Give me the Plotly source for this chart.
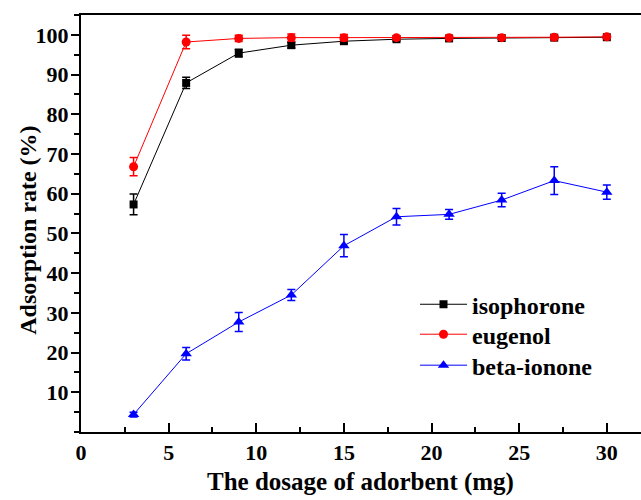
import plotly.graph_objects as go

dosage = [3, 6, 9, 12, 15, 18, 21, 24, 27, 30]

isophorone = [57.3, 87.9, 95.4, 97.4, 98.4, 98.9, 99.1, 99.2, 99.3, 99.4]
isophorone_err = [2.6, 1.4, 1.0, 0.7, 0.5, 0.4, 0.4, 0.3, 0.3, 0.3]

eugenol = [66.8, 98.2, 99.1, 99.3, 99.3, 99.3, 99.3, 99.3, 99.4, 99.5]
eugenol_err = [2.3, 1.7, 0.8, 0.9, 0.8, 0.5, 0.4, 0.3, 0.3, 0.3]

beta_ionone = [4.4, 19.7, 27.7, 34.5, 46.9, 54.2, 54.8, 58.4, 63.3, 60.4]
beta_ionone_err = [0.6, 1.6, 2.4, 1.4, 2.8, 2.1, 1.2, 1.7, 3.5, 1.8]

y_ticks = [10, 20, 30, 40, 50, 60, 70, 80, 90, 100]
x_ticks = [0, 5, 10, 15, 20, 25, 30]

FONT = "Times New Roman"

L, T, B = 81, 15, 67.5
W, H = 641, 500
ph = H - T - B

series = [
    ("isophorone", isophorone, isophorone_err, "black", "square", 8, "legend", 305),
    ("eugenol", eugenol, eugenol_err, "red", "circle", 9, "legend2", 335),
    ("beta-ionone", beta_ionone, beta_ionone_err, "blue", "triangle-up", 10, "legend3", 366),
]

fig = go.Figure()
legends = {}
for name, vals, errs, col, sym, sz, lg, row_y in series:
    fig.add_trace(go.Scatter(
        x=dosage, y=vals, name="<b>" + name + "</b>", mode="lines+markers",
        line=dict(color=col, width=1),
        marker=dict(color=col, symbol=sym, size=sz),
        error_y=dict(type="data", array=errs, visible=True,
                     color=col, thickness=1.5, width=4),
        legend=lg,
    ))
    legends[lg] = dict(
        x=(420 - L - 5) / (W - L), y=(T + ph - row_y) / ph,
        xanchor="left", yanchor="middle",
        bgcolor="rgba(0,0,0,0)", borderwidth=0,
        font=dict(family=FONT, size=24, color="black"),
        itemwidth=47,
    )

fig.update_layout(
    width=W, height=H,
    margin=dict(l=L, r=0, t=T, b=B, pad=0),
    paper_bgcolor="white", plot_bgcolor="white",
    font=dict(family=FONT, color="black"),
    showlegend=True,
    **legends,
    xaxis=dict(
        range=[0, 31.95], tickvals=x_ticks, ticktext=["<b>%d</b>" % v for v in x_ticks],
        showline=True, linecolor="black", linewidth=2, mirror=True,
        ticks="inside", ticklen=9, tickwidth=2, tickcolor="black",
        minor=dict(dtick=2.5, tick0=0, ticks="inside", ticklen=5, tickwidth=2, tickcolor="black"),
        showgrid=False, zeroline=False,
        tickfont=dict(family=FONT, size=22, color="black"),
    ),
    yaxis=dict(
        range=[0, 105], tickvals=y_ticks, ticktext=["<b>%d</b>" % v for v in y_ticks],
        showline=True, linecolor="black", linewidth=2, mirror=False,
        ticks="outside", ticklen=8, tickwidth=2, tickcolor="black",
        minor=dict(dtick=5, tick0=0, ticks="outside", ticklen=5, tickwidth=2, tickcolor="black"),
        showgrid=False, zeroline=False, ticklabelstandoff=-2,
        tickfont=dict(family=FONT, size=22, color="black"),
    ),
    annotations=[
        dict(text="<b>The dosage of adorbent (mg)</b>", xref="paper", yref="paper",
             x=(360.5 - L) / (W - L), y=(T + ph - 483) / ph,
             xanchor="center", yanchor="middle", showarrow=False,
             font=dict(family=FONT, size=25, color="black")),
        dict(text="<b>Adsorption rate (%)</b>", xref="paper", yref="paper",
             x=(28 - L) / (W - L), y=(T + ph - 231) / ph,
             xanchor="center", yanchor="middle", showarrow=False, textangle=-90,
             font=dict(family=FONT, size=24, color="black")),
    ],
)

fig.write_html("out.html")
